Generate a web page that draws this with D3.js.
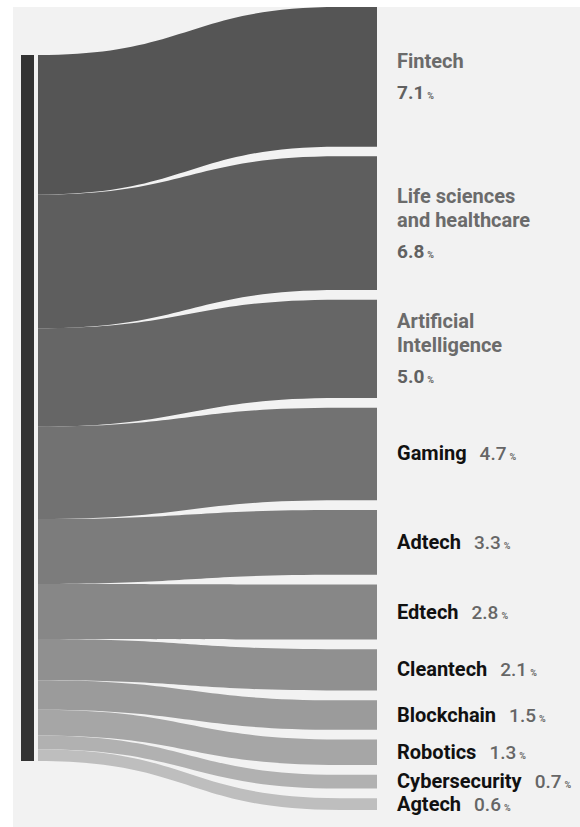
<!DOCTYPE html>
<html>
<head>
    <title>Startup sectors sankey</title>
    <script src="https://d3js.org/d3.v7.min.js"></script>
    <style>
        body { margin: 0; background: #fff; }
        text { font-family: Roboto, "Noto Sans", sans-serif; }
    </style>
</head>
<body>
    <div id="chart"></div>

    <script>
        // Data
        const categories = ["Fintech", "Life sciences and healthcare", "Artificial Intelligence",
                            "Gaming", "Adtech", "Edtech", "Cleantech", "Blockchain",
                            "Robotics", "Cybersecurity", "Agtech"];
        const shares = [7.1, 6.8, 5.0, 4.7, 3.3, 2.8, 2.1, 1.5, 1.3, 0.7, 0.6];
        const labelLines = [["Fintech"], ["Life sciences", "and healthcare"], ["Artificial", "Intelligence"],
                            ["Gaming"], ["Adtech"], ["Edtech"], ["Cleantech"], ["Blockchain"],
                            ["Robotics"], ["Cybersecurity"], ["Agtech"]];
        const stackedLabels = ["Fintech", "Life sciences and healthcare", "Artificial Intelligence"];
        const greys = ["#555555", "#5e5e5e", "#666666", "#727272", "#7c7c7c", "#878787",
                       "#909090", "#9b9b9b", "#a6a6a6", "#b1b1b1", "#bebebe"];

        const W = 580, H = 827;
        const svg = d3.select("#chart").append("svg")
            .attr("width", W).attr("height", H);

        // light panel
        svg.append("rect")
            .attr("x", 13).attr("y", 7)
            .attr("width", W - 13).attr("height", H - 7)
            .attr("fill", "#f2f2f2");

        const total = d3.sum(shares);
        const leftTop = 55, leftBottom = 761;
        const rightTop = 7, rightBottom = 810;
        const gap = ((rightBottom - rightTop) - (leftBottom - leftTop)) / (shares.length - 1);

        const h = d3.scaleLinear().domain([0, total]).range([0, leftBottom - leftTop]);
        const color = d3.scaleOrdinal().domain(categories).range(greys);

        const cum = d3.cumsum([0].concat(shares));
        const nodes = categories.map(function(c, i) {
            return {
                name: c,
                value: shares[i],
                lines: labelLines[i],
                ly0: leftTop + h(cum[i]),
                ly1: leftTop + h(cum[i + 1]),
                ry0: rightTop + h(cum[i]) + i * gap,
                ry1: rightTop + h(cum[i + 1]) + i * gap
            };
        });

        const x0 = 38, x1 = 340, xEnd = 377, xm = (x0 + x1) / 2;

        function band(d) {
            const p = d3.path();
            p.moveTo(x0, d.ly0);
            p.bezierCurveTo(xm, d.ly0, xm, d.ry0, x1, d.ry0);
            p.lineTo(xEnd, d.ry0);
            p.lineTo(xEnd, d.ry1);
            p.lineTo(x1, d.ry1);
            p.bezierCurveTo(xm, d.ry1, xm, d.ly1, x0, d.ly1);
            p.closePath();
            return p.toString();
        }

        svg.append("g")
          .selectAll("path")
          .data(nodes)
          .enter().append("path")
            .attr("d", band)
            .attr("fill", function(d) { return color(d.name); });

        // source bar
        svg.append("rect")
            .attr("x", 21).attr("y", leftTop)
            .attr("width", 13).attr("height", leftBottom - leftTop)
            .attr("fill", "#333333");

        // labels
        const labelX = 397;
        const lab = svg.append("g").selectAll("g")
            .data(nodes)
            .enter().append("g");

        lab.each(function(d) {
            const g = d3.select(this);
            const cy = (d.ry0 + d.ry1) / 2;
            if (stackedLabels.includes(d.name)) {
                const n = d.lines.length;
                const first = cy - ((n - 1) * 24 + 31) / 2 + 7;
                d.lines.forEach(function(line, k) {
                    g.append("text")
                        .attr("x", labelX).attr("y", first + k * 24)
                        .attr("font-size", 20).attr("font-weight", 700)
                        .attr("fill", "#6b6b6b")
                        .text(line);
                });
                const v = g.append("text")
                    .attr("x", labelX).attr("y", first + (n - 1) * 24 + 31)
                    .attr("font-size", 19).attr("font-weight", 700)
                    .attr("fill", "#616161");
                v.append("tspan").text(d3.format(".1f")(d.value));
                v.append("tspan").attr("dx", 3).attr("font-size", 9).text("%");
            } else {
                const t = g.append("text")
                    .attr("x", labelX).attr("y", cy + 6.5)
                    .attr("font-size", 20);
                t.append("tspan").attr("font-weight", 700).attr("fill", "#111111")
                    .text(d.lines[0]);
                t.append("tspan").attr("dx", 13).attr("font-weight", 500).attr("font-size", 19)
                    .attr("fill", "#666666").text(d3.format(".1f")(d.value));
                t.append("tspan").attr("dx", 3).attr("font-size", 9).attr("font-weight", 700)
                    .attr("fill", "#666666").text("%");
            }
        });
    </script>
</body>
</html>
